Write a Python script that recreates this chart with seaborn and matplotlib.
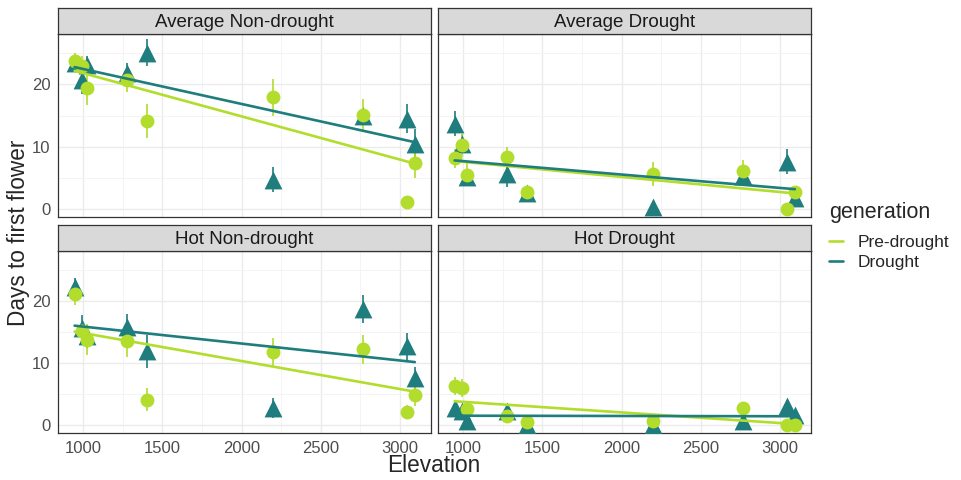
import pandas as pd
import seaborn as sns
import matplotlib.pyplot as plt

# population elevations (same in every panel)
elevation = [945, 990, 1025, 1275, 1400, 2200, 2770, 3045, 3095]
panels = ["Average Non-drought", "Average Drought", "Hot Non-drought", "Hot Drought"]
generations = ["Pre-drought", "Drought"]
colors = {"Pre-drought": "#B2DD2C", "Drought": "#1F7D7E"}
markers = {"Pre-drought": "o", "Drought": "^"}

# days to first flower, mean and error
avg_nd_pre = [23.8, 23.0, 19.5, 20.7, 14.1, 17.9, 15.1, 1.1, 7.3]
avg_nd_pre_err = [1.2, 1.5, 2.8, 1.9, 2.7, 2.9, 2.5, 0.3, 2.4]
avg_nd_dro = [23.4, 20.7, 23.1, 21.8, 25.1, 4.7, 15.0, 14.5, 10.5]
avg_nd_dro_err = [1.0, 2.3, 1.5, 1.7, 2.2, 2.0, 1.0, 2.3, 2.3]

avg_d_pre = [8.1, 10.2, 5.5, 8.4, 2.7, 5.6, 6.1, 0.0, 2.7]
avg_d_pre_err = [1.5, 1.8, 1.8, 1.6, 0.8, 1.9, 1.8, 0.2, 1.0]
avg_d_dro = [13.7, 10.5, 5.2, 5.6, 2.5, 0.3, 5.3, 7.6, 1.7]
avg_d_dro_err = [2.0, 1.5, 1.0, 2.1, 0.8, 0.2, 1.5, 2.0, 1.2]

hot_nd_pre = [21.1, 15.2, 13.8, 13.5, 4.1, 11.8, 12.2, 2.1, 4.8]
hot_nd_pre_err = [1.8, 1.5, 2.5, 2.5, 1.8, 2.3, 2.3, 1.2, 1.8]
hot_nd_dro = [22.3, 15.7, 14.3, 15.8, 11.9, 2.8, 18.7, 12.7, 7.6]
hot_nd_dro_err = [1.5, 2.0, 1.8, 2.2, 2.7, 1.6, 2.3, 2.2, 1.8]

hot_d_pre = [6.3, 6.0, 2.6, 1.5, 0.5, 0.65, 2.8, 0.0, 0.0]
hot_d_pre_err = [1.5, 1.5, 1.0, 0.6, 0.3, 0.3, 0.8, 0.1, 0.1]
hot_d_dro = [2.8, 2.2, 0.7, 2.2, 0.0, 0.0, 0.6, 3.0, 1.6]
hot_d_dro_err = [1.0, 0.8, 0.5, 0.6, 0.2, 0.2, 0.5, 1.0, 0.8]

series = {
    "Average Non-drought": (avg_nd_pre, avg_nd_pre_err, avg_nd_dro, avg_nd_dro_err),
    "Average Drought": (avg_d_pre, avg_d_pre_err, avg_d_dro, avg_d_dro_err),
    "Hot Non-drought": (hot_nd_pre, hot_nd_pre_err, hot_nd_dro, hot_nd_dro_err),
    "Hot Drought": (hot_d_pre, hot_d_pre_err, hot_d_dro, hot_d_dro_err),
}

rows = []
for panel in panels:
    pre, pre_err, dro, dro_err = series[panel]
    for gen, vals, errs in [("Pre-drought", pre, pre_err), ("Drought", dro, dro_err)]:
        for e, v, s in zip(elevation, vals, errs):
            rows.append({"panel": panel, "elevation": e, "generation": gen, "days": v, "err": s})
df = pd.DataFrame(rows)

sns.set_style("white")
plt.rcParams['font.family'] = ['Liberation Sans', 'DejaVu Sans']

fig = plt.figure(figsize=(9.61, 4.8), dpi=100)

W, H = 961, 480
# panel boxes in pixels: left, top, right, bottom
boxes = {
    "Average Non-drought": (58, 34, 431, 217),
    "Average Drought": (438, 34, 811, 217),
    "Hot Non-drought": (58, 251, 431, 433),
    "Hot Drought": (438, 251, 811, 433),
}
strip_h = 26

for i, panel in enumerate(panels):
    l, t, r, b = boxes[panel]
    ax = fig.add_axes([l / W, 1 - b / H, (r - l) / W, (b - t) / H])
    sub = df[df.panel == panel]

    for gen in ["Drought", "Pre-drought"]:
        g = sub[sub.generation == gen]
        ax.errorbar(g.elevation, g.days, yerr=g.err, fmt="none",
                    ecolor=colors[gen], elinewidth=1.2, capsize=0, zorder=2)
    for gen in ["Drought", "Pre-drought"]:
        g = sub[sub.generation == gen]
        sns.scatterplot(data=g, x="elevation", y="days", color=colors[gen],
                        marker=markers[gen], s=165 if gen == "Drought" else 100,
                        linewidth=0, legend=False, ax=ax, zorder=3)
    for gen in generations:
        g = sub[sub.generation == gen]
        sns.regplot(data=g, x="elevation", y="days", scatter=False, ci=None,
                    color=colors[gen], label=gen, truncate=True,
                    line_kws=dict(lw=1.9, zorder=4), ax=ax)

    ax.set_xlim(840, 3197)
    ax.set_ylim(-1.3, 28.1)
    ax.set_xticks([1000, 1500, 2000, 2500, 3000])
    ax.set_xticks([1250, 1750, 2250, 2750], minor=True)
    ax.set_yticks([0, 10, 20])
    ax.set_yticks([5, 15, 25], minor=True)
    ax.grid(which="major", color="#EBEBEB", lw=1.0)
    ax.grid(which="minor", color="#F3F3F3", lw=0.6)
    ax.set_axisbelow(True)
    ax.set_xlabel("")
    ax.set_ylabel("")
    for sp in ax.spines.values():
        sp.set_color("#333333")
        sp.set_linewidth(0.9)
    ax.tick_params(which="major", length=3.5, width=0.8, color="#333333",
                   labelcolor="#4D4D4D", labelsize=12, pad=2)
    ax.tick_params(which="minor", length=0)
    if i < 2:
        ax.tick_params(axis="x", which="major", length=0, labelbottom=False)
    if i % 2 == 1:
        ax.tick_params(axis="y", which="major", length=0, labelleft=False)

    # facet strip
    sax = fig.add_axes([l / W, 1 - t / H, (r - l) / W, strip_h / H])
    sax.set_facecolor("#D9D9D9")
    sax.set_xticks([])
    sax.set_yticks([])
    for sp in sax.spines.values():
        sp.set_color("#333333")
        sp.set_linewidth(0.9)
    sax.text(0.5, 0.46, panel, ha="center", va="center", fontsize=13.5,
             color="#1A1A1A", transform=sax.transAxes)

    if i == 0:
        handles, labels = ax.get_legend_handles_labels()

fig.text(19 / W, 1 - 233 / H, "Days to first flower", rotation=90,
         ha="center", va="center", fontsize=16.3)
fig.text(434 / W, 1 - 466 / H, "Elevation", ha="center", va="center", fontsize=16.3)

leg = fig.legend(handles, labels, title="generation", loc="upper left",
                 bbox_to_anchor=(813 / W, 1 - 186 / H), frameon=False,
                 fontsize=12.5, title_fontsize=15.5, handlelength=0.85,
                 handletextpad=0.8, labelspacing=0.3, alignment="left")
leg._legend_box.sep = 8.5

fig.savefig("out.png", dpi=100)
